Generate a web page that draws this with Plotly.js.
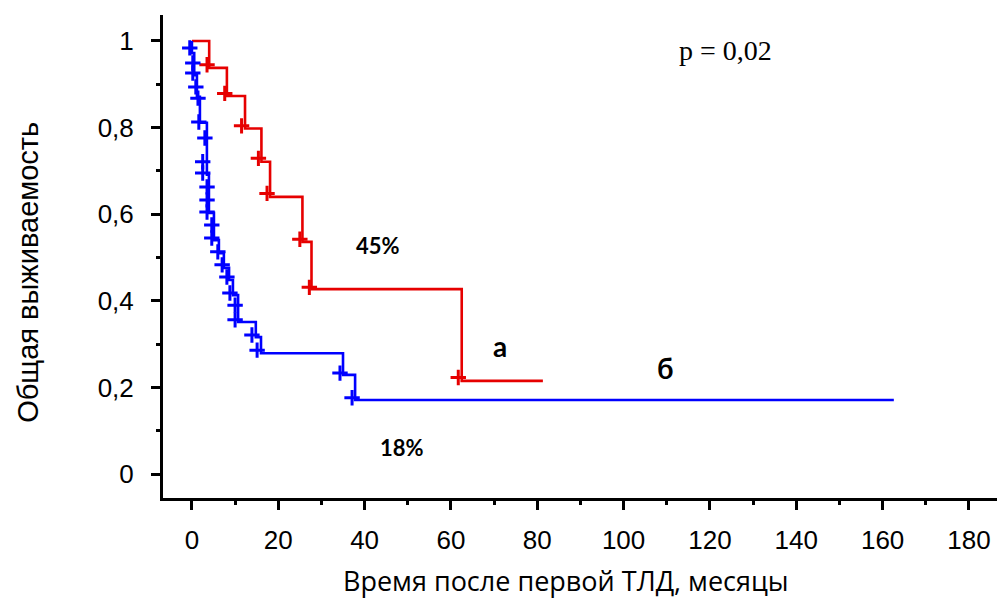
<!DOCTYPE html>
<html>
<head>
<meta charset="utf-8">
<script src="https://cdn.plot.ly/plotly-3.0.1.min.js"></script>
<style>html,body{margin:0;padding:0;background:#fff}#chart{width:997px;height:598px}</style>
</head>
<body>
<div id="chart"></div>
<script>
// Group "а" (red) — step curve
const redTimes = [0, 4.0, 8.1, 12.3, 16.1, 18.1, 25.6, 27.7, 62.5, 81.3];
const redSurv  = [1, 0.938, 0.873, 0.798, 0.721, 0.640, 0.536, 0.427, 0.215, 0.215];
// Group "а" censored observations
const redCensT = [3.5, 7.6, 11.5, 15.4, 17.4, 25.0, 27.2, 61.7];
const redCensS = [0.945, 0.879, 0.804, 0.729, 0.648, 0.542, 0.431, 0.223];

// Group "б" (blue) — step curve
const blueTimes = [0, 0, 0.53, 1.16, 1.85, 3.47, 3.94, 5.1, 6.25, 7.4, 8.6, 9.5, 10.7, 14.8, 16.0, 35.0, 37.8, 162.6];
const blueSurv  = [1, 0.972, 0.921, 0.871, 0.811, 0.691, 0.603, 0.540, 0.510, 0.476, 0.448, 0.413, 0.351, 0.316, 0.279, 0.229, 0.171, 0.171];
// Group "б" censored observations
const blueCensT = [-0.5, 0.2, 0.2, 0.9, 1.4, 1.6, 3.0, 2.5, 2.5, 3.5, 3.5, 3.5, 4.6, 4.6, 6.0, 7.0, 8.1, 8.8, 10.0, 10.0, 13.9, 15.1, 34.3, 37.1];
const blueCensS = [0.984, 0.949, 0.926, 0.894, 0.868, 0.813, 0.776, 0.721, 0.695, 0.663, 0.633, 0.605, 0.575, 0.545, 0.513, 0.483, 0.455, 0.418, 0.390, 0.356, 0.321, 0.286, 0.233, 0.176];

const xTickVals = [0, 20, 40, 60, 80, 100, 120, 140, 160, 180];
const xTickText = ["0", "20", "40", "60", "80", "100", "120", "140", "160", "180"];
const yTickVals = [0, 0.2, 0.4, 0.6, 0.8, 1];
const yTickText = ["0", "0,2", "0,4", "0,6", "0,8", "1"];

const xTitle = "Время после первой ТЛД, месяцы";
const yTitle = "Общая выживаемость";

const RED = "#e60000";
const BLUE = "#0000ff";

const traces = [
  {x: redTimes, y: redSurv, mode: "lines", line: {shape: "hv", color: RED, width: 2.6}, hoverinfo: "skip"},
  {x: blueTimes, y: blueSurv, mode: "lines", line: {shape: "hv", color: BLUE, width: 2.6}, hoverinfo: "skip"},
  {x: redCensT, y: redCensS, mode: "markers", marker: {symbol: "cross-thin", size: 11, line: {color: RED, width: 3}, color: RED}, hoverinfo: "skip"},
  {x: blueCensT, y: blueCensS, mode: "markers", marker: {symbol: "cross-thin", size: 11, line: {color: BLUE, width: 3}, color: BLUE}, hoverinfo: "skip"}
];

const layout = {
  width: 997, height: 598,
  margin: {l: 163, r: 0, t: 15, b: 100},
  showlegend: false,
  paper_bgcolor: "#fff", plot_bgcolor: "#fff",
  xaxis: {
    range: [-6.7, 186.5], showgrid: false, zeroline: false,
    showline: true, linecolor: "#000", linewidth: 3,
    ticks: "outside", ticklen: 9, tickwidth: 3, tickcolor: "#000",
    tickvals: xTickVals, ticktext: xTickText,
    minor: {ticks: "outside", ticklen: 4, tickwidth: 3, tickcolor: "#000", dtick: 10, tick0: 0, showgrid: false},
    tickfont: {family: "Liberation Sans, Arial, sans-serif", size: 26, color: "#000"},
    ticklabelstandoff: 8
  },
  yaxis: {
    range: [-0.0554, 1.06], showgrid: false, zeroline: false,
    showline: true, linecolor: "#000", linewidth: 3,
    ticks: "outside", ticklen: 9, tickwidth: 3, tickcolor: "#000",
    tickvals: yTickVals, ticktext: yTickText,
    minor: {ticks: "outside", ticklen: 4, tickwidth: 3, tickcolor: "#000", dtick: 0.1, tick0: 0, showgrid: false},
    tickfont: {family: "Liberation Sans, Arial, sans-serif", size: 26, color: "#000"},
    ticklabelstandoff: 12
  },
  annotations: [
    {xref: "paper", yref: "paper", x: 0.483, y: -0.17, xanchor: "center", yanchor: "middle", text: xTitle, showarrow: false, font: {family: "Open Sans, sans-serif", size: 27, color: "#000"}},
    {xref: "paper", yref: "paper", x: -0.162, y: 0.468, xanchor: "center", yanchor: "middle", textangle: -90, text: yTitle, showarrow: false, font: {family: "Liberation Sans, Arial, sans-serif", size: 29, color: "#000"}},
    {x: 43.1, y: 0.527, text: "<b>45%</b>", showarrow: false, font: {family: "Lato, sans-serif", size: 22, color: "#000"}},
    {x: 71.3, y: 0.296, text: "<b>а</b>", showarrow: false, font: {family: "Lato, sans-serif", size: 28, color: "#000"}},
    {x: 109.6, y: 0.245, text: "<b>б</b>", showarrow: false, font: {family: "Lato, sans-serif", size: 28, color: "#000"}},
    {x: 48.6, y: 0.062, text: "<b>18%</b>", showarrow: false, font: {family: "Lato, sans-serif", size: 22, color: "#000"}},
    {x: 123.5, y: 0.979, text: "p = 0,02", showarrow: false, font: {family: "Liberation Serif, Times New Roman, serif", size: 28, color: "#000"}}
  ]
};

Plotly.newPlot("chart", traces, layout, {displayModeBar: false, staticPlot: true});
</script>
</body>
</html>
